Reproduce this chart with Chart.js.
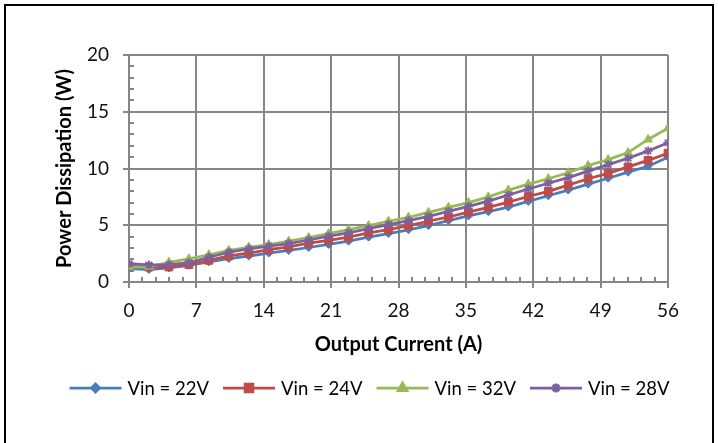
<!DOCTYPE html>
<html>
<head>
<meta charset="utf-8">
<script src="https://cdn.jsdelivr.net/npm/chart.js@4.4.1/dist/chart.umd.min.js"></script>
<style>
    html, body { margin: 0; padding: 0; background: #fff; }
    #wrap { width: 718px; height: 443px; }
</style>
</head>
<body>
<div id="wrap"><canvas id="lossChart" width="718" height="443"></canvas></div>
<script>
// Output current (A) of each measured point
const currentA = [0, 2.07, 4.15, 6.22, 8.3, 10.37, 12.44, 14.52, 16.59, 18.67, 20.74, 22.81, 24.89, 26.96,
    29.04, 31.11, 33.19, 35.26, 37.33, 39.41, 41.48, 43.56, 45.63, 47.7, 49.78, 51.85, 53.93, 56];

// Power dissipation (W) for each input voltage
const loss22V = [1.18, 1.1, 1.24, 1.47, 1.78, 2.06, 2.28, 2.55, 2.78, 3.04, 3.31, 3.6, 3.95, 4.27,
    4.6, 4.97, 5.4, 5.82, 6.2, 6.6, 7.1, 7.6, 8.1, 8.62, 9.14, 9.68, 10.2, 11.0];
const loss24V = [1.4, 1.32, 1.32, 1.53, 1.91, 2.3, 2.55, 2.85, 3.09, 3.42, 3.66, 3.95, 4.33, 4.62,
    4.97, 5.35, 5.73, 6.16, 6.58, 7.04, 7.53, 7.99, 8.53, 9.1, 9.57, 10.14, 10.72, 11.35];
const loss32V = [1.32, 1.34, 1.74, 2.04, 2.4, 2.78, 3.06, 3.3, 3.6, 3.92, 4.27, 4.62, 4.97, 5.35,
    5.7, 6.13, 6.57, 7.0, 7.5, 8.1, 8.62, 9.1, 9.63, 10.26, 10.78, 11.4, 12.56, 13.55];
const loss28V = [1.62, 1.5, 1.53, 1.7, 2.18, 2.62, 2.92, 3.16, 3.38, 3.7, 4.04, 4.33, 4.71, 5.06,
    5.41, 5.78, 6.22, 6.66, 7.13, 7.67, 8.19, 8.7, 9.2, 9.77, 10.34, 10.9, 11.55, 12.27];

const seriesNames = ["Vin = 22V", "Vin = 24V", "Vin = 32V", "Vin = 28V"];

const xTicks = [0, 7, 14, 21, 28, 35, 42, 49, 56];
const yTicks = [0, 5, 10, 15, 20];

const gridColor = "#868686";
const fontFamily = "Lato, 'Open Sans', sans-serif";

function toPoints(values) {
    return values.map((v, i) => ({ x: currentA[i], y: v }));
}

function makeSeries(label, values, color, style, radius, order) {
    return {
        label: label,
        data: toPoints(values),
        showLine: true,
        borderColor: color,
        backgroundColor: color,
        borderWidth: 2.75,
        pointStyle: style,
        pointRadius: radius,
        pointBorderWidth: style === "star" ? 1.8 : 1,
        pointHoverRadius: radius,
        order: order
    };
}

// White card with the black outline round it
const framePlugin = {
    id: "frame",
    beforeDraw(chart) {
        const ctx = chart.ctx;
        ctx.save();
        ctx.fillStyle = "#fff";
        ctx.fillRect(0, 0, chart.width, chart.height);
        ctx.strokeStyle = "#000";
        ctx.lineWidth = 2;
        ctx.strokeRect(5, 5, 708, 470);
        ctx.restore();
    }
};

// Small inside ticks between the labelled ones
const minorTicksPlugin = {
    id: "minorTicks",
    beforeDatasetsDraw(chart) {
        const ctx = chart.ctx;
        const x = chart.scales.x;
        const y = chart.scales.y;
        ctx.save();
        ctx.strokeStyle = gridColor;
        ctx.lineWidth = 2;
        ctx.beginPath();
        for (let v = 1; v < 20; v++) {
            if (v % 5 === 0) continue;
            const py = Math.round(y.getPixelForValue(v));
            ctx.moveTo(x.left, py);
            ctx.lineTo(x.left + 5, py);
        }
        for (let k = 1; k < 40; k++) {
            if (k % 5 === 0) continue;
            const px = Math.round(x.getPixelForValue(k * 1.4));
            ctx.moveTo(px, y.bottom);
            ctx.lineTo(px, y.bottom - 5);
        }
        ctx.stroke();
        ctx.restore();
    }
};

// Legend row: line sample with marker, then the series name
const lineLegendPlugin = {
    id: "lineLegend",
    afterDraw(chart) {
        const ctx = chart.ctx;
        const sets = chart.data.datasets;
        const lineLen = 52, gap = 6, itemGap = 14, rowY = 388;
        ctx.save();
        ctx.font = "18.5px " + fontFamily;
        ctx.textBaseline = "middle";
        let total = 0;
        sets.forEach(ds => { total += lineLen + gap + ctx.measureText(ds.label).width; });
        total += itemGap * (sets.length - 1);
        let x = 369.5 - total / 2;
        sets.forEach(ds => {
            ctx.strokeStyle = ds.borderColor;
            ctx.fillStyle = ds.backgroundColor;
            ctx.lineWidth = ds.borderWidth;
            ctx.beginPath();
            ctx.moveTo(x, rowY);
            ctx.lineTo(x + lineLen, rowY);
            ctx.stroke();
            Chart.helpers.drawPoint(ctx, {
                pointStyle: ds.pointStyle,
                radius: ds.pointRadius,
                rotation: 0,
                borderWidth: ds.pointBorderWidth
            }, x + lineLen / 2, rowY);
            x += lineLen + gap;
            ctx.fillStyle = "#000";
            ctx.fillText(ds.label, x, rowY + 1);
            x += ctx.measureText(ds.label).width + itemGap;
        });
        ctx.restore();
    }
};

const ctx = document.getElementById("lossChart").getContext("2d");
const lossChart = new Chart(ctx, {
    type: "scatter",
    data: {
        datasets: [
            makeSeries(seriesNames[0], loss22V, "#4a7ebb", "rectRot", 4, 4),
            makeSeries(seriesNames[1], loss24V, "#be4b48", "rect", 5.5, 3),
            makeSeries(seriesNames[2], loss32V, "#98b954", "triangle", 5, 2),
            makeSeries(seriesNames[3], loss28V, "#7d60a0", "star", 4.5, 1)
        ]
    },
    options: {
        responsive: false,
        animation: false,
        events: [],
        layout: { padding: { left: 49, top: 55, right: 50, bottom: 82 } },
        plugins: {
            legend: { display: false },
            tooltip: { enabled: false }
        },
        scales: {
            x: {
                type: "linear",
                min: 0,
                max: 56,
                afterBuildTicks(scale) { scale.ticks = xTicks.map(v => ({ value: v })); },
                afterFit(scale) { scale.height = 79; },
                grid: { color: gridColor, lineWidth: 2, tickLength: 6, drawTicks: true },
                border: { color: gridColor, width: 2 },
                ticks: { font: { family: fontFamily, size: 19 }, color: "#111", padding: 11, maxRotation: 0 },
                title: {
                    display: true,
                    text: "Output Current (A)",
                    font: { family: fontFamily, size: 20, weight: "bold" },
                    color: "#000",
                    padding: { top: 4, bottom: 4 }
                }
            },
            y: {
                type: "linear",
                min: 0,
                max: 20,
                afterBuildTicks(scale) { scale.ticks = yTicks.map(v => ({ value: v })); },
                afterFit(scale) { scale.width = 80; },
                grid: { color: gridColor, lineWidth: 2, tickLength: 6, drawTicks: true },
                border: { color: gridColor, width: 2 },
                ticks: { font: { family: fontFamily, size: 19 }, color: "#111", padding: 14 },
                title: {
                    display: true,
                    text: "Power Dissipation (W)",
                    font: { family: fontFamily, size: 20, weight: "bold" },
                    color: "#000",
                    padding: { top: 4, bottom: 4 }
                }
            }
        }
    },
    plugins: [framePlugin, minorTicksPlugin, lineLegendPlugin]
});
</script>
</body>
</html>
